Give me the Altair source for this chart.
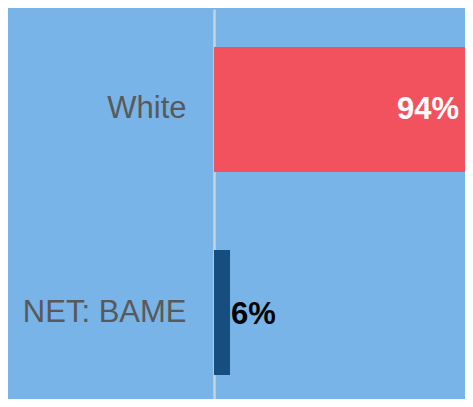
import altair as alt
import pandas as pd

categories = ["White", "NET: BAME"]
values = [94, 6]
labels = ["94%", "6%"]
colors = ["#f2525e", "#174e80"]

df = pd.DataFrame({"cat": categories, "val": values, "label": labels, "color": colors})

FONT = "Liberation Sans"

y = alt.Y(
    "cat:N",
    sort=categories,
    scale=alt.Scale(range=[0, 404], paddingInner=0.384, paddingOuter=0.187),
    axis=alt.Axis(
        title=None,
        ticks=False,
        labelFontSize=31,
        labelColor="#595959",
        labelFont=FONT,
        labelPadding=28,
        domainColor="#c9d3dc",
        domainWidth=2.5,
        labelLimit=300,
        grid=False,
    ),
)
x = alt.X("val:Q", scale=alt.Scale(domain=[0, 94], nice=False, zero=True), axis=None)

base = alt.Chart(df)
bars = base.mark_bar().encode(x=x, y=y, color=alt.Color("color:N", scale=None))
t_in = base.transform_filter("datum.val >= 50").mark_text(
    align="right", baseline="middle", dx=-6, dy=1, fontSize=31, fontWeight="bold", color="white", font=FONT
).encode(x=x, y=y, text="label:N")
t_out = base.transform_filter("datum.val < 50").mark_text(
    align="left", baseline="middle", dx=1, dy=2, fontSize=31, fontWeight="bold", color="black", font=FONT
).encode(x=x, y=y, text="label:N")

chart = alt.layer(bars, t_in, t_out).properties(
    width=251,
    height=390,
    background="#78b4e8",
    padding={"left": 206, "top": 1, "right": 0, "bottom": 0},
    autosize=alt.AutoSizeParams(type="none"),
).configure_view(stroke=None)

chart.save("out.html", embed_options={"renderer": "svg", "actions": False})
